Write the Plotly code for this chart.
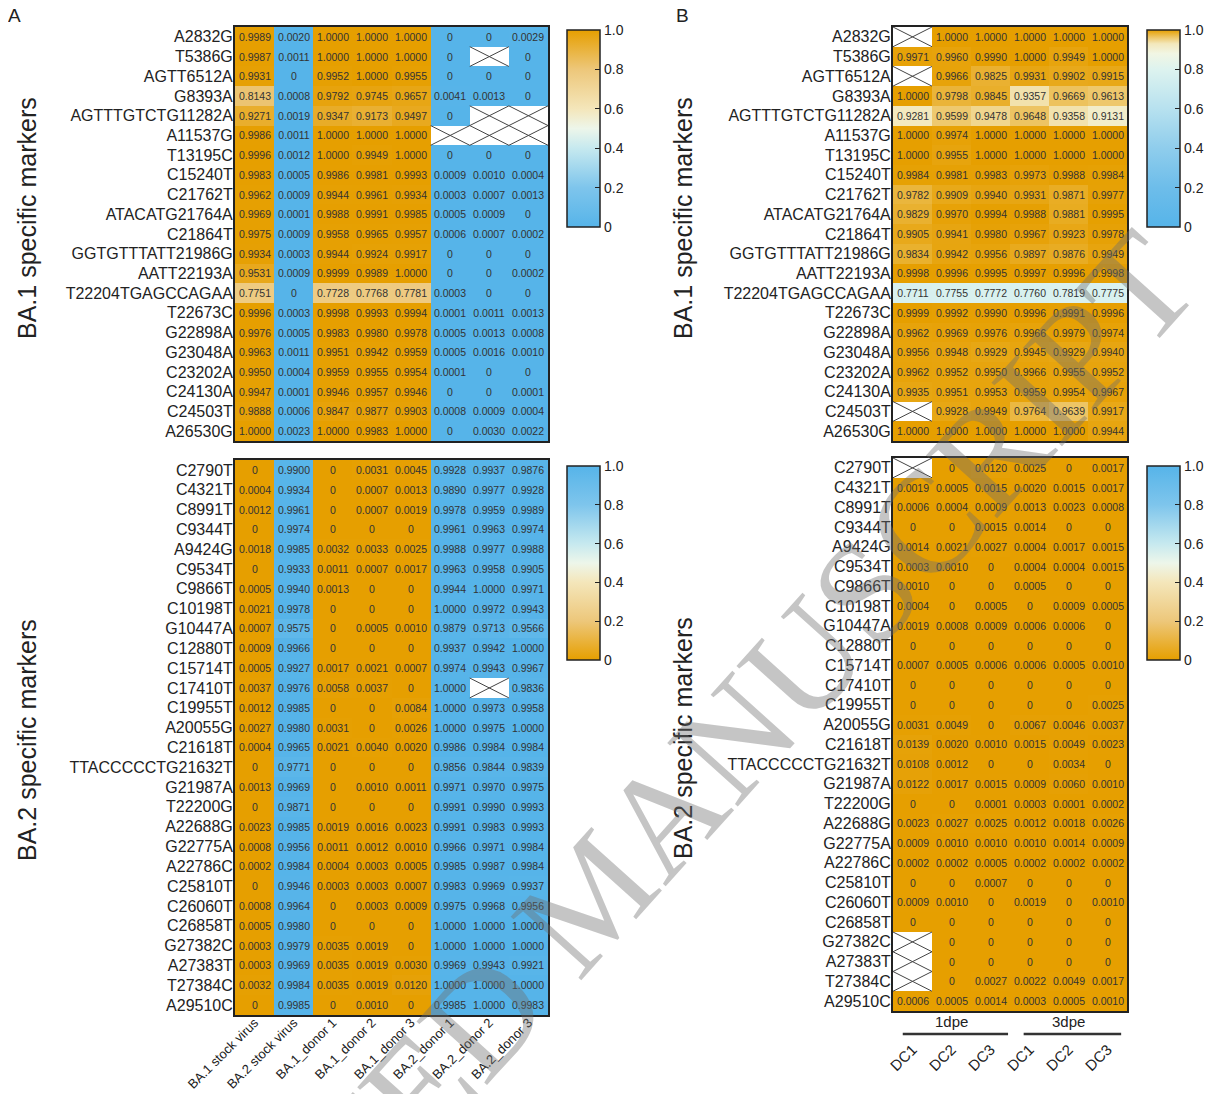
import plotly.graph_objects as go

# browser page has an 8px body margin: the figure is placed at (8, 8)
OFF = 8
W, H = 1219 - 2 * OFF, 1102 - 2 * OFF
FONT = "Liberation Sans, Arial, sans-serif"

# ---------------- data ----------------
a_columns = ["BA.1 stock virus", "BA.2 stock virus", "BA.1_donor 1", "BA.1_donor 2",
             "BA.1_donor 3", "BA.2_donor 1", "BA.2_donor 2", "BA.2_donor 3"]
b_columns = ["DC1", "DC2", "DC3", "DC1", "DC2", "DC3"]
b_groups = ["1dpe", "3dpe"]

ba1_markers = ["A2832G", "T5386G", "AGTT6512A", "G8393A", "AGTTTGTCTG11282A", "A11537G",
               "T13195C", "C15240T", "C21762T", "ATACATG21764A", "C21864T",
               "GGTGTTTATT21986G", "AATT22193A", "T22204TGAGCCAGAA", "T22673C", "G22898A",
               "G23048A", "C23202A", "C24130A", "C24503T", "A26530G"]
ba2_markers = ["C2790T", "C4321T", "C8991T", "C9344T", "A9424G", "C9534T", "C9866T",
               "C10198T", "G10447A", "C12880T", "C15714T", "C17410T", "C19955T", "A20055G",
               "C21618T", "TTACCCCCTG21632T", "G21987A", "T22200G", "A22688G", "G22775A",
               "A22786C", "C25810T", "C26060T", "C26858T", "G27382C", "A27383T", "T27384C",
               "A29510C"]

# Panel A, BA.1 markers (rows) x samples (columns); None = not available
a_ba1_values = [
    [0.9989, 0.0020, 1.0, 1.0, 1.0, 0, 0, 0.0029],
    [0.9987, 0.0011, 1.0, 1.0, 1.0, 0, None, 0],
    [0.9931, 0, 0.9952, 1.0, 0.9955, 0, 0, 0],
    [0.8143, 0.0008, 0.9792, 0.9745, 0.9657, 0.0041, 0.0013, 0],
    [0.9271, 0.0019, 0.9347, 0.9173, 0.9497, 0, None, None],
    [0.9986, 0.0011, 1.0, 1.0, 1.0, None, None, None],
    [0.9996, 0.0012, 1.0, 0.9949, 1.0, 0, 0, 0],
    [0.9983, 0.0005, 0.9986, 0.9981, 0.9993, 0.0009, 0.0010, 0.0004],
    [0.9962, 0.0009, 0.9944, 0.9961, 0.9934, 0.0003, 0.0007, 0.0013],
    [0.9969, 0.0001, 0.9988, 0.9991, 0.9985, 0.0005, 0.0009, 0],
    [0.9975, 0.0009, 0.9958, 0.9965, 0.9957, 0.0006, 0.0007, 0.0002],
    [0.9934, 0.0003, 0.9944, 0.9924, 0.9917, 0, 0, 0],
    [0.9531, 0.0009, 0.9999, 0.9989, 1.0, 0, 0, 0.0002],
    [0.7751, 0, 0.7728, 0.7768, 0.7781, 0.0003, 0, 0],
    [0.9996, 0.0003, 0.9998, 0.9993, 0.9994, 0.0001, 0.0011, 0.0013],
    [0.9976, 0.0005, 0.9983, 0.9980, 0.9978, 0.0005, 0.0013, 0.0008],
    [0.9963, 0.0011, 0.9951, 0.9942, 0.9959, 0.0005, 0.0016, 0.0010],
    [0.9950, 0.0004, 0.9959, 0.9955, 0.9954, 0.0001, 0, 0],
    [0.9947, 0.0001, 0.9946, 0.9957, 0.9946, 0, 0, 0.0001],
    [0.9888, 0.0006, 0.9847, 0.9877, 0.9903, 0.0008, 0.0009, 0.0004],
    [1.0, 0.0023, 1.0, 0.9983, 1.0, 0, 0.0030, 0.0022],
]

# Panel A, BA.2 markers
a_ba2_values = [
    [0, 0.9900, 0, 0.0031, 0.0045, 0.9928, 0.9937, 0.9876],
    [0.0004, 0.9934, 0, 0.0007, 0.0013, 0.9890, 0.9977, 0.9928],
    [0.0012, 0.9961, 0, 0.0007, 0.0019, 0.9978, 0.9959, 0.9989],
    [0, 0.9974, 0, 0, 0, 0.9961, 0.9963, 0.9974],
    [0.0018, 0.9985, 0.0032, 0.0033, 0.0025, 0.9988, 0.9977, 0.9988],
    [0, 0.9933, 0.0011, 0.0007, 0.0017, 0.9963, 0.9958, 0.9905],
    [0.0005, 0.9940, 0.0013, 0, 0, 0.9944, 1.0, 0.9971],
    [0.0021, 0.9978, 0, 0, 0, 1.0, 0.9972, 0.9943],
    [0.0007, 0.9575, 0, 0.0005, 0.0010, 0.9879, 0.9713, 0.9566],
    [0.0009, 0.9966, 0, 0, 0, 0.9937, 0.9942, 1.0],
    [0.0005, 0.9927, 0.0017, 0.0021, 0.0007, 0.9974, 0.9943, 0.9967],
    [0.0037, 0.9976, 0.0058, 0.0037, 0, 1.0, None, 0.9836],
    [0.0012, 0.9985, 0, 0, 0.0084, 1.0, 0.9973, 0.9958],
    [0.0027, 0.9980, 0.0031, 0, 0.0026, 1.0, 0.9975, 1.0],
    [0.0004, 0.9965, 0.0021, 0.0040, 0.0020, 0.9986, 0.9984, 0.9984],
    [0, 0.9771, 0, 0, 0, 0.9856, 0.9844, 0.9839],
    [0.0013, 0.9969, 0, 0.0010, 0.0011, 0.9971, 0.9970, 0.9975],
    [0, 0.9871, 0, 0, 0, 0.9991, 0.9990, 0.9993],
    [0.0023, 0.9985, 0.0019, 0.0016, 0.0023, 0.9991, 0.9983, 0.9993],
    [0.0008, 0.9956, 0.0011, 0.0012, 0.0010, 0.9966, 0.9971, 0.9984],
    [0.0002, 0.9984, 0.0004, 0.0003, 0.0005, 0.9985, 0.9987, 0.9984],
    [0, 0.9946, 0.0003, 0.0003, 0.0007, 0.9983, 0.9969, 0.9937],
    [0.0008, 0.9964, 0, 0.0003, 0.0009, 0.9975, 0.9968, 0.9956],
    [0.0005, 0.9980, 0, 0, 0, 1.0, 1.0, 1.0],
    [0.0003, 0.9979, 0.0035, 0.0019, 0, 1.0, 1.0, 1.0],
    [0.0003, 0.9969, 0.0035, 0.0019, 0.0030, 0.9969, 0.9943, 0.9921],
    [0.0032, 0.9984, 0.0035, 0.0019, 0.0120, 1.0, 1.0, 1.0],
    [0, 0.9985, 0, 0.0010, 0, 0.9985, 1.0, 0.9983],
]

# Panel B, BA.1 markers (1dpe DC1-3, 3dpe DC1-3)
b_ba1_values = [
    [None, 1.0, 1.0, 1.0, 1.0, 1.0],
    [0.9971, 0.9960, 0.9990, 1.0, 0.9949, 1.0],
    [None, 0.9966, 0.9825, 0.9931, 0.9902, 0.9915],
    [1.0, 0.9798, 0.9845, 0.9357, 0.9669, 0.9613],
    [0.9281, 0.9599, 0.9478, 0.9648, 0.9358, 0.9131],
    [1.0, 0.9974, 1.0, 1.0, 1.0, 1.0],
    [1.0, 0.9955, 1.0, 1.0, 1.0, 1.0],
    [0.9984, 0.9981, 0.9983, 0.9973, 0.9988, 0.9984],
    [0.9782, 0.9909, 0.9940, 0.9931, 0.9871, 0.9977],
    [0.9829, 0.9970, 0.9994, 0.9988, 0.9881, 0.9995],
    [0.9905, 0.9941, 0.9980, 0.9967, 0.9923, 0.9978],
    [0.9834, 0.9942, 0.9956, 0.9897, 0.9876, 0.9949],
    [0.9998, 0.9996, 0.9995, 0.9997, 0.9996, 0.9998],
    [0.7711, 0.7755, 0.7772, 0.7760, 0.7819, 0.7775],
    [0.9999, 0.9992, 0.9990, 0.9996, 0.9991, 0.9996],
    [0.9962, 0.9969, 0.9976, 0.9966, 0.9979, 0.9974],
    [0.9956, 0.9948, 0.9929, 0.9945, 0.9929, 0.9940],
    [0.9962, 0.9952, 0.9950, 0.9966, 0.9955, 0.9952],
    [0.9935, 0.9951, 0.9953, 0.9959, 0.9954, 0.9967],
    [None, 0.9928, 0.9949, 0.9764, 0.9639, 0.9917],
    [1.0, 1.0, 1.0, 1.0, 1.0, 0.9944],
]

# Panel B, BA.2 markers
b_ba2_values = [
    [None, 0, 0.0120, 0.0025, 0, 0.0017],
    [0.0019, 0.0005, 0.0015, 0.0020, 0.0015, 0.0017],
    [0.0006, 0.0004, 0.0009, 0.0013, 0.0023, 0.0008],
    [0, 0, 0.0015, 0.0014, 0, 0],
    [0.0014, 0.0021, 0.0027, 0.0004, 0.0017, 0.0015],
    [0.0003, 0.0010, 0, 0.0004, 0.0004, 0.0015],
    [0.0010, 0, 0, 0.0005, 0, 0],
    [0.0004, 0, 0.0005, 0, 0.0009, 0.0005],
    [0.0019, 0.0008, 0.0009, 0.0006, 0.0006, 0],
    [0, 0, 0, 0, 0, 0],
    [0.0007, 0.0005, 0.0006, 0.0006, 0.0005, 0.0010],
    [0, 0, 0, 0, 0, 0],
    [0, 0, 0, 0, 0, 0.0025],
    [0.0031, 0.0049, 0, 0.0067, 0.0046, 0.0037],
    [0.0139, 0.0020, 0.0010, 0.0015, 0.0049, 0.0023],
    [0.0108, 0.0012, 0, 0, 0.0034, 0],
    [0.0122, 0.0017, 0.0015, 0.0009, 0.0060, 0.0010],
    [0, 0, 0.0001, 0.0003, 0.0001, 0.0002],
    [0.0023, 0.0027, 0.0025, 0.0012, 0.0018, 0.0026],
    [0.0009, 0.0010, 0.0010, 0.0010, 0.0014, 0.0009],
    [0.0002, 0.0002, 0.0005, 0.0002, 0.0002, 0.0002],
    [0, 0, 0.0007, 0, 0, 0],
    [0.0009, 0.0010, 0, 0.0019, 0, 0.0010],
    [0, 0, 0, 0, 0, 0],
    [None, 0, 0, 0, 0, 0],
    [None, 0, 0, 0, 0, 0],
    [None, 0, 0.0027, 0.0022, 0.0049, 0.0017],
    [0.0006, 0.0005, 0.0014, 0.0003, 0.0005, 0.0010],
]

colorbar_ticks = [0, 0.2, 0.4, 0.6, 0.8, 1.0]
colorbar_ticktext = ["0", "0.2", "0.4", "0.6", "0.8", "1.0"]

# ---------------- styles ----------------
cs_a_up = [[0, "#56B4E9"], [0.2, "#7EC5EC"], [0.4, "#C6E9EF"], [0.5, "#EDF6EA"],
           [0.6, "#F4E6BA"], [0.8, "#EDC77A"], [1, "#E69F00"]]
cs_down = [[round(1 - p, 4), c] for p, c in reversed(cs_a_up)]
cs_b_up = [[0, "#56B4E9"], [0.2, "#6DBDEA"], [0.4, "#8FCDEC"], [0.6, "#B7E1EF"],
           [0.8, "#DDF3EF"], [0.88, "#F1F6E4"], [0.93, "#F3E8BC"], [0.965, "#EDC462"],
           [1, "#E69F00"]]


def fx(p):
    return (p - OFF) / W


def fy(p):
    return 1 - (p - OFF) / H


def fmt(v):
    if v is None:
        return ""
    if v == 0:
        return "0"
    return f"{v:.4f}"


panels = [
    dict(z=a_ba1_values, rows=ba1_markers, cols=a_columns, cs=cs_a_up, ax="",
         xr=(235, 548), yr=(27, 441), cb=(567, 30, 227), xlabels=False),
    dict(z=a_ba2_values, rows=ba2_markers, cols=a_columns, cs=cs_down, ax="2",
         xr=(235, 548), yr=(460, 1015), cb=(567, 466, 660), xlabels=True),
    dict(z=b_ba1_values, rows=ba1_markers, cols=b_columns, cs=cs_b_up, ax="3",
         xr=(893, 1127), yr=(27, 441), cb=(1147, 30, 227), xlabels=False),
    dict(z=b_ba2_values, rows=ba2_markers, cols=b_columns, cs=cs_down, ax="4",
         xr=(893, 1127), yr=(458, 1011), cb=(1147, 466, 660), xlabels=True),
]

fig = go.Figure()
layout_axes = {}

for i, p in enumerate(panels):
    nrow, ncol = len(p["rows"]), len(p["cols"])
    xs = list(range(ncol))
    ys = list(range(nrow))
    z = [[(float("nan") if v is None else v) for v in row] for row in p["z"]]
    txt = [[fmt(v) for v in row] for row in p["z"]]
    xa, ya = "x" + p["ax"], "y" + p["ax"]
    cbx, cbt, cbb = p["cb"]
    fig.add_trace(go.Heatmap(
        z=z, x=xs, y=ys, text=txt, texttemplate="%{text}",
        textfont=dict(family=FONT, size=10.5, color="#333333"),
        colorscale=p["cs"], zmin=0, zmax=1, xaxis=xa, yaxis=ya,
        hoverinfo="skip",
        colorbar=dict(
            x=fx(cbx), xanchor="left", xpad=0,
            y=fy(cbb), yanchor="bottom", ypad=0,
            len=(cbb - cbt) / H, lenmode="fraction",
            thickness=33, thicknessmode="pixels",
            outlinewidth=1.5, outlinecolor="#222222",
            tickvals=colorbar_ticks, ticktext=colorbar_ticktext,
            ticks="inside", ticklen=5, tickcolor="#222222", tickwidth=1,
            tickfont=dict(family=FONT, size=14, color="#222222"),
        ),
    ))
    # crosses for missing cells
    lx, ly = [], []
    for r, row in enumerate(p["z"]):
        for c, v in enumerate(row):
            if v is None:
                lx += [c - 0.5, c + 0.5, None, c - 0.5, c + 0.5, None]
                ly += [r - 0.5, r + 0.5, None, r + 0.5, r - 0.5, None]
    if lx:
        fig.add_trace(go.Scatter(x=lx, y=ly, mode="lines", xaxis=xa, yaxis=ya,
                                 line=dict(color="#444444", width=1),
                                 hoverinfo="skip", showlegend=False))

    xkey = "xaxis" + p["ax"]
    ykey = "yaxis" + p["ax"]
    x0, x1 = p["xr"]
    y0, y1 = p["yr"]
    xaxis = dict(domain=[fx(x0), fx(x1)], anchor=ya, range=[-0.5, ncol - 0.5],
                 showgrid=False, zeroline=False, showline=True, mirror=True,
                 linecolor="#222222", linewidth=2, ticks="", automargin=False,
                 tickvals=xs, ticktext=p["cols"], showticklabels=p["xlabels"],
                 tickangle=-45, fixedrange=True)
    if p["ax"] == "2":
        xaxis.update(tickfont=dict(family=FONT, size=13, color="#222222"),
                     ticklabelstandoff=-7)
    if p["ax"] == "4":
        xaxis.update(tickfont=dict(family=FONT, size=15, color="#222222"),
                     ticklabelstandoff=22)
    yaxis = dict(domain=[fy(y1), fy(y0)], anchor=xa, range=[nrow - 0.5, -0.5],
                 showgrid=False, zeroline=False, showline=True, mirror=True,
                 linecolor="#222222", linewidth=2, ticks="", automargin=False,
                 tickvals=ys, ticktext=p["rows"],
                 tickfont=dict(family=FONT, size=16, color="#222222"),
                 ticklabelstandoff=-3, fixedrange=True)
    layout_axes[xkey] = xaxis
    layout_axes[ykey] = yaxis

fig.update_layout(**layout_axes)


def paper_text(text, x, y, size, angle=0):
    return dict(text=text, x=fx(x), y=fy(y), xref="paper", yref="paper",
                xanchor="center", yanchor="middle", showarrow=False, textangle=angle,
                font=dict(family=FONT, size=size, color="#222222"))


annotations = [
    paper_text("A", 14, 15, 19),
    paper_text("B", 682, 15, 19),
    paper_text("BA.1 specific markers", 27, 218, 25, -90),
    paper_text("BA.2 specific markers", 27, 740, 25, -90),
    paper_text("BA.1 specific markers", 683, 218, 25, -90),
    paper_text("BA.2 specific markers", 683, 738, 25, -90),
]
for gi, g in enumerate(b_groups):
    annotations.append(dict(text=g, x=gi * 3 + 1, y=fy(1021), xref="x4", yref="paper",
                            xanchor="center", yanchor="middle", showarrow=False,
                            font=dict(family=FONT, size=15, color="#222222")))

# journal watermark seen across the reference
annotations.append(dict(text="ACCEPTED MANUSCRIPT", x=fx(592), y=fy(895), xref="paper",
                        yref="paper", xanchor="center", yanchor="middle", showarrow=False,
                        textangle=-48,
                        font=dict(family="Liberation Serif, Times New Roman, serif",
                                  size=145, color="rgba(110,110,110,0.4)")))

shapes = []
for gi, g in enumerate(b_groups):
    shapes.append(dict(type="line", xref="x4", yref="paper",
                       x0=gi * 3 - 0.25 + 0.1 * gi, x1=gi * 3 + 2.45 - 0.1 * gi,
                       y0=fy(1034), y1=fy(1034),
                       line=dict(color="#333333", width=2.5)))

fig.update_layout(
    width=W, height=H, margin=dict(l=0, r=0, t=0, b=0, autoexpand=False),
    paper_bgcolor="white", plot_bgcolor="white",
    font=dict(family=FONT, color="#222222"),
    annotations=annotations, shapes=shapes, showlegend=False,
)

fig.write_html("out.html")
